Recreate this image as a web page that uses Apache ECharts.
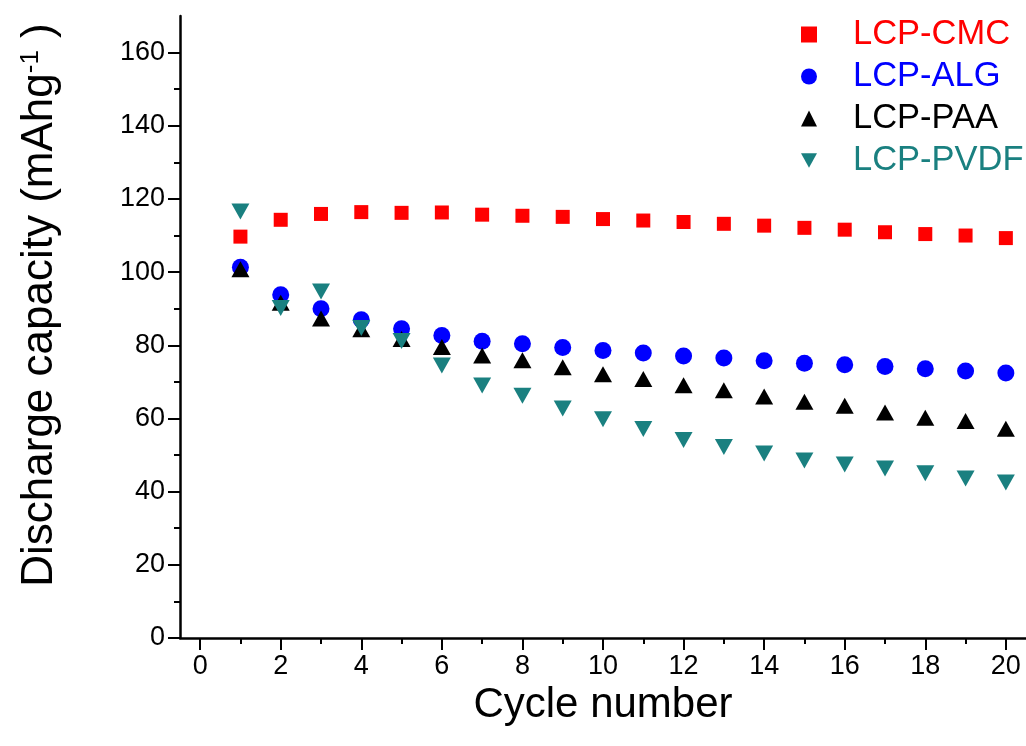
<!DOCTYPE html>
<html>
<head>
<meta charset="utf-8">
<script src="https://cdn.jsdelivr.net/npm/echarts@6/dist/echarts.min.js"></script>
<style>
html,body{margin:0;padding:0;background:#fff;}
#chart{width:1026px;height:746px;}
</style>
</head>
<body>
<div id="chart"></div>
<script>
var cycles = [1,2,3,4,5,6,7,8,9,10,11,12,13,14,15,16,17,18,19,20];
var cmc  = [109.7,114.3,115.9,116.4,116.2,116.3,115.7,115.4,115.1,114.5,114.1,113.7,113.2,112.7,112.1,111.6,110.9,110.4,110.0,109.3];
var alg  = [101.3,93.8,90.0,87.0,84.5,82.7,81.1,80.4,79.4,78.6,77.9,77.1,76.5,75.8,75.1,74.7,74.2,73.6,73.0,72.4];
var paa  = [100.8,91.6,87.3,84.4,81.7,79.5,77.2,75.9,74.0,72.1,70.8,69.1,67.7,66.0,64.6,63.5,61.6,60.2,59.3,57.2];
var pvdf = [116.6,90.2,94.7,84.7,81.2,74.5,69.0,66.2,62.7,59.8,57.1,54.1,52.2,50.4,48.5,47.4,46.3,45.0,43.6,42.5];
var seriesNames = ['LCP-CMC','LCP-ALG','LCP-PAA','LCP-PVDF'];
var xMajorTicks = [0,2,4,6,8,10,12,14,16,18,20];
var xMinorTicks = [1,3,5,7,9,11,13,15,17,19];
var yMajorTicks = [0,20,40,60,80,100,120,140,160];
var yMinorTicks = [10,30,50,70,90,110,130,150];

var FONT = '"Liberation Sans", Arial, sans-serif';
var colors = ['#ff0000','#0000ff','#000000','#1a8080'];
var legendIcons = ['rect','circle','triangle','path://M0,0 L20,0 L10,18 Z'];

function pts(arr){ return cycles.map(function(c,i){ return [c, arr[i]]; }); }

var chart = echarts.init(document.getElementById('chart'), null, {renderer:'canvas'});
var axisLineStyle = {color:'#000', width:2.5};
var option = {
  backgroundColor:'#fff',
  animation:false,
  textStyle:{fontFamily:FONT},
  grid:{left:180, top:16, width:847, height:622, containLabel:false},
  legend:{
    orient:'vertical', left:796, top:12, itemWidth:16, itemHeight:16, itemGap:7,
    data: seriesNames.map(function(n,i){ return {name:n, icon:legendIcons[i], textStyle:{color:colors[i]}}; }),
    textStyle:{fontFamily:FONT, fontSize:34.5, lineHeight:35, padding:[0,0,0,31]}
  },
  xAxis:[{
    type:'value', min:-0.5, max:20.5,
    name:'Cycle number', nameLocation:'middle', nameGap:36,
    nameTextStyle:{fontFamily:FONT, fontSize:42, color:'#000'},
    axisLine:{show:true, onZero:false, lineStyle:axisLineStyle},
    axisTick:{show:true, customValues:xMajorTicks, length:12, lineStyle:{color:'#000', width:2}},
    axisLabel:{show:true, customValues:xMajorTicks, margin:15, fontSize:27, color:'#000', fontFamily:FONT},
    splitLine:{show:false}
  },{
    type:'value', min:-0.5, max:20.5, position:'bottom',
    axisLine:{show:false, onZero:false},
    axisTick:{show:true, customValues:xMinorTicks, length:6, lineStyle:{color:'#000', width:2}},
    axisLabel:{show:false},
    splitLine:{show:false}
  }],
  yAxis:[{
    type:'value', min:0, max:170,
    name:'{a|Discharge capacity (mAhg}{s|-1}{a| )}', nameLocation:'middle', nameGap:118, nameRotate:90,
    nameTextStyle:{fontFamily:FONT, color:'#000', padding:[0,0,0,44],
      rich:{a:{fontSize:44, fontFamily:FONT, color:'#000'}, s:{fontSize:26, fontFamily:FONT, color:'#000', verticalAlign:'top', lineHeight:44}}},
    axisLine:{show:true, onZero:false, lineStyle:axisLineStyle},
    axisTick:{show:true, customValues:yMajorTicks, length:12, lineStyle:{color:'#000', width:2}},
    axisLabel:{show:true, customValues:yMajorTicks, margin:15, fontSize:27, color:'#000', fontFamily:FONT},
    splitLine:{show:false}
  },{
    type:'value', min:0, max:170, position:'left',
    axisLine:{show:false, onZero:false},
    axisTick:{show:true, customValues:yMinorTicks, length:6, lineStyle:{color:'#000', width:2}},
    axisLabel:{show:false},
    splitLine:{show:false}
  }],
  series:[
    {name:seriesNames[0], type:'scatter', data:pts(cmc), symbol:'rect', symbolSize:14, itemStyle:{color:colors[0], opacity:1}},
    {name:seriesNames[1], type:'scatter', data:pts(alg), symbol:'circle', symbolSize:17, itemStyle:{color:colors[1], opacity:1}},
    {name:seriesNames[2], type:'scatter', data:pts(paa), symbol:'triangle', symbolSize:[18,16], itemStyle:{color:colors[2], opacity:1}},
    {name:seriesNames[3], type:'scatter', data:pts(pvdf), symbol:'triangle', symbolRotate:180, symbolSize:[18,16], itemStyle:{color:colors[3], opacity:1}}
  ]
};
chart.setOption(option);
</script>
</body>
</html>
